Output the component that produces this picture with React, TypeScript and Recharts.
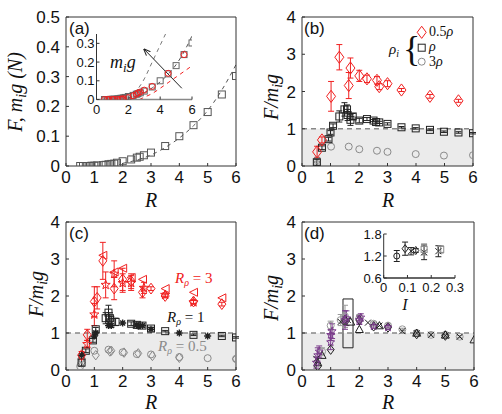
import React from "react";
import {
  ComposedChart,
  ErrorBar,
  Line,
  ReferenceArea,
  ReferenceLine,
  Scatter,
  XAxis,
  YAxis,
} from "recharts";

const W = 502;
const H = 414;

const RED = "#f02020";
const BLACK = "#222";
const GRAY = "#8a8a8a";
const PURPLE = "#7b3c8c";
const SANS = "'Liberation Sans', Arial, sans-serif";
const SERIF = "'Liberation Serif', 'Times New Roman', serif";

const R_TICKS = [0, 1, 2, 3, 4, 5, 6];

// (a) force and weight against size ratio R
const aR = [0.5, 0.6, 0.7, 0.8, 0.9, 1.0, 1.1, 1.3, 1.4, 1.5, 1.6, 1.7, 1.8, 2.0, 2.3, 2.5, 2.6, 2.75, 3.0, 3.5, 4.0, 4.5, 5.0, 5.5, 6.0];
const aF = [0, 0, 0, 0, 0.001, 0.001, 0.002, 0.003, 0.004, 0.006, 0.007, 0.008, 0.011, 0.016, 0.022, 0.028, 0.031, 0.036, 0.045, 0.067, 0.1, 0.137, 0.181, 0.24, 0.302];
const aFitR = [2.0, 2.5, 3.0, 3.5, 4.0, 4.5, 5.0, 5.5, 6.0];
const aFitF = [0.009, 0.02, 0.037, 0.062, 0.094, 0.135, 0.186, 0.255, 0.34];
// inset of (a)
const inRedR = [0.5, 0.7, 0.8, 1.0, 1.1, 1.3, 1.5, 1.6, 1.7, 2.0, 2.3, 2.5, 2.6, 2.75, 3.0, 3.5, 4.5, 5.5];
const inRedF = [0, 0, 0, 0, 0, 0, 0.002, 0.003, 0.004, 0.01, 0.02, 0.028, 0.035, 0.04, 0.05, 0.07, 0.14, 0.24];
const inSteepR = [2.0, 2.5, 3.0, 3.5, 4.0, 4.45];
const inSteepF = [0, 0.045, 0.11, 0.2, 0.29, 0.37];
const inLowR = [2.7, 3.0, 3.5, 4.0, 4.5, 5.0, 5.5, 6.0];
const inLowF = [0, 0.012, 0.032, 0.06, 0.09, 0.12, 0.15, 0.18];

// (b) normalised force for three intruder densities
const bHalfR = [0.53, 0.7, 1.02, 1.31, 1.64, 1.7, 2.01, 2.28, 2.63, 2.71, 3.0, 3.49, 4.49, 5.49];
const bHalfY = [0.38, 0.7, 1.87, 2.92, 2.16, 2.63, 2.42, 2.34, 2.3, 2.13, 2.21, 2.04, 1.87, 1.75];
const bHalfE = [0.15, 0.08, 0.4, 0.34, 0.35, 0.27, 0.15, 0.1, 0.1, 0.08, 0.08, 0.04, 0.05, 0.04];
const bOneR = [0.52, 0.7, 0.93, 1.0, 1.09, 1.31, 1.49, 1.58, 1.6, 1.7, 1.78, 2.01, 2.28, 2.51, 2.6, 2.71, 3.0, 3.49, 3.99, 4.49, 4.98, 5.49, 6.0];
const bOneY = [0.1, 0.49, 0.72, 0.9, 1.08, 1.33, 1.52, 1.52, 1.37, 1.24, 1.33, 1.22, 1.26, 1.22, 1.18, 1.17, 1.13, 1.04, 1.01, 0.97, 0.92, 0.9, 0.88];
const bOneE = [0.08, 0.05, 0.05, 0.05, 0.05, 0.15, 0.18, 0.12, 0.15, 0.15, 0.08, 0.06, 0.04, 0.03, 0.03, 0.03, 0.03, 0.02, 0.02, 0.02, 0.02, 0.02, 0.02];
const bThreeR = [0.53, 0.53, 1.02, 1.64, 2.01, 2.63, 3.0, 3.99, 4.98, 6.0];
const bThreeY = [0.05, 0.16, 0.52, 0.52, 0.45, 0.41, 0.38, 0.32, 0.28, 0.29];

// (c) three density ratios, several intruder sizes each
const cRedDiaR = [0.55, 0.75, 1.0, 1.1, 1.3, 1.7, 2.0, 2.3, 2.7, 3.0, 3.5, 4.5, 5.5];
const cRedDiaY = [0.4, 0.95, 1.85, 1.95, 2.95, 2.2, 2.45, 2.4, 2.1, 2.2, 2.0, 1.85, 1.78];
const cRedDiaE = [0.1, 0.15, 0.4, 0.3, 0.5, 0.3, 0.3, 0.2, 0.15, 0.05, 0.05, 0.05, 0.05];
const cRedTriR = [1.3, 1.7, 2.0, 2.3, 2.7, 3.5, 4.5, 5.5];
const cRedTriY = [3.1, 2.65, 2.75, 2.5, 2.45, 2.2, 2.1, 1.95];
const cRedStarR = [0.75, 1.0, 1.4, 1.7, 2.0, 2.3, 2.75, 3.5, 4.5];
const cRedStarY = [0.7, 1.5, 2.3, 2.6, 2.35, 2.35, 2.22, 2.03, 1.83];
const cRedStarE = [0.1, 0.3, 0.35, 0.35, 0.25, 0.2, 0.15, 0.05, 0.05];
const cBlkSqR = [0.55, 0.7, 0.95, 1.05, 1.4, 1.5, 1.55, 1.6, 1.75, 2.3, 2.5, 2.7, 3.0, 3.5, 4.5, 5.5, 6.0];
const cBlkSqY = [0.2, 0.52, 0.8, 1.1, 1.4, 1.55, 1.4, 1.3, 1.3, 1.25, 1.22, 1.2, 1.12, 1.05, 0.95, 0.92, 0.88];
const cBlkSqE = [0.1, 0.05, 0.05, 0.05, 0.15, 0.2, 0.15, 0.15, 0.1, 0.05, 0.05, 0.04, 0.03, 0.02, 0.02, 0.02, 0.02];
const cBlkAstR = [0.55, 1.0, 1.05, 1.5, 1.6, 2.0, 2.5, 2.55, 2.7, 3.0, 4.0, 5.0];
const cBlkAstY = [0.4, 0.92, 1.0, 1.2, 1.2, 1.27, 1.22, 1.18, 1.2, 1.1, 1.0, 0.92];
const cGrayCirR = [0.5, 0.55, 1.0, 1.5, 2.0, 2.5, 3.0, 4.0, 5.0, 6.0];
const cGrayCirY = [0.1, 0.3, 0.52, 0.55, 0.48, 0.43, 0.42, 0.35, 0.32, 0.3];
const cGrayDiaR = [0.55, 1.05, 1.55, 1.6, 2.05, 2.55, 3.05, 4.0, 6.0];
const cGrayDiaY = [0.2, 0.4, 0.5, 0.52, 0.47, 0.45, 0.38, 0.33, 0.3];

// (d) all runs collapsed, inset against inertial number I
const dCirR = [0.7, 1.0, 1.35, 1.5, 2.0, 2.5, 3.0, 3.5, 4.0, 4.5, 5.0, 5.5];
const dCirY = [0.5, 1.2, 1.35, 1.45, 1.4, 1.25, 1.2, 1.1, 1.0, 0.95, 0.95, 0.9];
const dCirE = [0.1, 0.12, 0.15, 0.3, 0.1, 0.05, 0.05, 0.03, 0.03, 0.03, 0.03, 0.03];
const dDiaR = [0.55, 1.0, 1.5, 2.0, 2.5, 3.0, 4.0, 5.0];
const dDiaY = [0.1, 0.55, 1.35, 1.35, 1.18, 1.15, 0.97, 0.93];
const dTriR = [0.55, 0.7, 1.7, 2.0, 2.7, 4.0, 5.0, 6.0];
const dTriY = [0.2, 0.4, 1.3, 1.1, 1.2, 1.0, 0.95, 0.82];
const dPurR = [0.5, 0.55, 0.6, 1.0, 1.0, 1.05, 1.5, 1.55, 2.0, 2.05, 2.5, 3.0];
const dPurY = [0.2, 0.4, 0.5, 0.75, 0.95, 1.05, 1.35, 1.4, 1.35, 1.42, 1.18, 1.15];
const dPurE = [0.15, 0.2, 0.15, 0.2, 0.15, 0.2, 0.25, 0.2, 0.12, 0.1, 0.05, 0.05];
const dCrossR = [0.5, 1.35, 1.6, 2.3, 2.7, 3.5, 4.0, 4.5, 5.0, 5.5];
const dCrossY = [0.3, 1.3, 1.35, 1.28, 1.2, 1.05, 1.0, 0.95, 0.93, 0.9];
const dInCirI = [0.055];
const dInCirY = [1.2];
const dInCirE = [0.15];
const dInDiaI = [0.09, 0.135];
const dInDiaY = [1.4, 1.35];
const dInDiaE = [0.18, 0.05];
const dInCrossI = [0.115, 0.17, 0.23];
const dInCrossY = [1.33, 1.3, 1.33];
const dInCrossE = [0.1, 0.2, 0.15];
const dInSqI = [0.17, 0.24];
const dInSqY = [1.38, 1.38];
const dInSqE = [0.15, 0.1];

type Pt = { x: number; y: number; e?: number };
const pts = (xs: number[], ys: number[], es?: number[]): Pt[] =>
  xs.map((x, i) => ({ x, y: ys[i], e: es ? es[i] : undefined }));

type Kind = "square" | "diamond" | "circle" | "triL" | "triU" | "star" | "aster" | "cross";

function Glyph({ cx, cy, kind, color, s }: { cx: number; cy: number; kind: Kind; color: string; s: number }) {
  const common = { fill: "none", stroke: color, strokeWidth: 1 };
  switch (kind) {
    case "square":
      return <rect x={cx - s} y={cy - s} width={2 * s} height={2 * s} {...common} />;
    case "diamond":
      return <path d={`M${cx},${cy - s * 1.35}L${cx + s},${cy}L${cx},${cy + s * 1.35}L${cx - s},${cy}Z`} {...common} />;
    case "circle":
      return <circle cx={cx} cy={cy} r={s} {...common} />;
    case "triL":
      return <path d={`M${cx - s},${cy}L${cx + s},${cy - s}L${cx + s},${cy + s}Z`} {...common} />;
    case "triU":
      return <path d={`M${cx},${cy - s}L${cx + s},${cy + s * 0.8}L${cx - s},${cy + s * 0.8}Z`} {...common} />;
    case "star": {
      let d = "";
      for (let k = 0; k < 10; k++) {
        const r = k % 2 === 0 ? s * 1.2 : s * 0.5;
        const a = -Math.PI / 2 + (k * Math.PI) / 5;
        d += `${k === 0 ? "M" : "L"}${cx + r * Math.cos(a)},${cy + r * Math.sin(a)}`;
      }
      return <path d={d + "Z"} {...common} />;
    }
    case "aster":
      return (
        <path
          d={`M${cx - s},${cy}H${cx + s}M${cx},${cy - s}V${cy + s}M${cx - s * 0.7},${cy - s * 0.7}L${cx + s * 0.7},${cy + s * 0.7}M${cx - s * 0.7},${cy + s * 0.7}L${cx + s * 0.7},${cy - s * 0.7}`}
          {...common}
          strokeWidth={1.4}
        />
      );
    default:
      return <path d={`M${cx - s},${cy - s}L${cx + s},${cy + s}M${cx - s},${cy + s}L${cx + s},${cy - s}`} {...common} />;
  }
}

const shape = (kind: Kind, color: string, s = 4) => (p: any) =>
  <Glyph cx={p.cx} cy={p.cy} kind={kind} color={color} s={s} />;

function Series({ data, kind, color, s, err }: { data: Pt[]; kind: Kind; color: string; s?: number; err?: boolean }) {
  return (
    <Scatter data={data} dataKey="y" shape={shape(kind, color, s)} isAnimationActive={false}>
      {err && <ErrorBar dataKey="e" direction="y" width={3} stroke={color} strokeWidth={1} />}
    </Scatter>
  );
}

function Curve({ data, color }: { data: Pt[]; color: string }) {
  return (
    <Line
      data={data}
      dataKey="y"
      type="monotone"
      stroke={color}
      strokeWidth={1}
      strokeDasharray="4 4"
      dot={false}
      activeDot={false}
      isAnimationActive={false}
    />
  );
}

interface Box {
  x0: number;
  x1: number;
  y0: number;
  y1: number;
}

const PA: Box = { x0: 66, x1: 236, y0: 17, y1: 166 };
const PB: Box = { x0: 302, x1: 473, y0: 17, y1: 166 };
const PC: Box = { x0: 66, x1: 236, y0: 222, y1: 370 };
const PD: Box = { x0: 302, x1: 474, y0: 222, y1: 370 };
const IA: Box = { x0: 96.5, x1: 192, y0: 34, y1: 99.5 };
const ID: Box = { x0: 383.7, x1: 455, y0: 234, y1: 278 };

function Panel({
  box,
  xDomain,
  yDomain,
  xTicks,
  yTicks,
  fontSize = 17,
  framed = true,
  tickFmt,
  baseStroke = "#333",
  children,
}: {
  box: Box;
  xDomain: [number, number];
  yDomain: [number, number];
  xTicks: number[];
  yTicks: number[];
  fontSize?: number;
  framed?: boolean;
  tickFmt?: (v: number) => string;
  baseStroke?: string;
  children?: React.ReactNode;
}) {
  const tick = { fill: "#111", fontSize, fontFamily: SANS };
  const line = { stroke: "#333", strokeWidth: 1 };
  // axes are 1px thick boxes sitting just outside the plot area
  const f = framed ? 1 : 0;
  return (
    <div style={{ position: "absolute", left: 0, top: 0 }}>
      <ComposedChart
        width={W}
        height={H}
        margin={{ top: box.y0 - f, left: box.x0 - 1, right: W - box.x1 - f, bottom: H - box.y1 - 1 }}
      >
        <XAxis
          type="number"
          dataKey="x"
          domain={xDomain}
          ticks={xTicks}
          interval={0}
          allowDataOverflow
          height={1}
          tickSize={-3}
          tickMargin={8}
          axisLine={{ stroke: baseStroke, strokeWidth: framed ? 1 : 1.5 }}
          tickLine={line}
          tick={tick}
          tickFormatter={(v: number) => String(v)}
        />
        <YAxis
          type="number"
          domain={yDomain}
          ticks={yTicks}
          interval={0}
          allowDataOverflow
          width={1}
          tickSize={-3}
          tickMargin={fontSize > 15 ? 9 : 5}
          axisLine={line}
          tickLine={line}
          tick={tick}
          tickFormatter={tickFmt}
        />
        {framed && (
          <XAxis
            xAxisId="top"
            orientation="top"
            type="number"
            domain={xDomain}
            ticks={xTicks}
            interval={0}
            allowDataOverflow
            height={1}
            tickSize={-3}
            axisLine={line}
            tickLine={line}
            tick={false}
          />
        )}
        {framed && (
          <YAxis
            yAxisId="right"
            orientation="right"
            type="number"
            domain={yDomain}
            ticks={yTicks}
            interval={0}
            allowDataOverflow
            width={1}
            tickSize={-3}
            axisLine={line}
            tickLine={line}
            tick={false}
          />
        )}
        {children}
      </ComposedChart>
    </div>
  );
}

function Shade() {
  return <ReferenceArea y1={0} y2={1} fill="#ebebeb" fillOpacity={1} stroke="none" />;
}

function Unity() {
  return <ReferenceLine y={1} stroke="#888" strokeWidth={1.5} strokeDasharray="5 4" />;
}

// F / m_i g written with a subscript i
function RatioLabel({ x, y }: { x: number; y: number }) {
  return (
    <text x={x} y={y} transform={`rotate(-90 ${x} ${y})`} textAnchor="middle" fontFamily={SERIF} fontStyle="italic" fontSize={20} fill="#111">
      F/m<tspan dy={4} fontSize={14}>i</tspan>
      <tspan dy={-4}>g</tspan>
    </text>
  );
}

function RLabel({ x, y }: { x: number; y: number }) {
  return (
    <text x={x} y={y} textAnchor="middle" fontFamily={SERIF} fontStyle="italic" fontSize={20} fill="#111">
      R
    </text>
  );
}

function Tag({ x, y, t }: { x: number; y: number; t: string }) {
  return (
    <text x={x} y={y} fontFamily={SANS} fontSize={17} fill="#111">
      {t}
    </text>
  );
}

// R_rho = value, drawn above the shaded band
function RhoNote({ x, y, v, color }: { x: number; y: number; v: string; color: string }) {
  return (
    <text x={x} y={y} fontFamily={SERIF} fontStyle="italic" fontSize={15} fill={color}>
      R<tspan dy={3} fontSize={10}>ρ</tspan>
      <tspan dy={-3} fontStyle="normal"> = {v}</tspan>
    </text>
  );
}

export default function App() {
  const fmt1 = (v: number) => (v === 0 ? "0" : v.toFixed(1));
  return (
    <div style={{ position: "absolute", left: 0, top: 0, width: W, height: H, background: "#fff" }}>
      {/* (a) */}
      <Panel box={PA} xDomain={[0, 6]} yDomain={[0, 0.5]} xTicks={R_TICKS} yTicks={[0, 0.1, 0.2, 0.3, 0.4, 0.5]} tickFmt={fmt1}>
        <Curve data={pts(aFitR, aFitF)} color="#555" />
        <Series data={pts(aR, aF)} kind="square" color="#555" s={3.5} />
        <text x={22} y={92} transform="rotate(-90 22 92)" textAnchor="middle" fontFamily={SERIF} fontStyle="italic" fontSize={20} fill="#111">
          F, m<tspan dy={4} fontSize={14}>i</tspan>
          <tspan dy={-4}>g (N)</tspan>
        </text>
        <RLabel x={151} y={207} />
        <Tag x={69} y={34} t="(a)" />
      </Panel>
      <Panel box={IA} xDomain={[0, 6]} yDomain={[0, 0.35]} xTicks={[0, 2, 4, 6]} yTicks={[0, 0.1, 0.2, 0.3]} fontSize={13} framed={false} tickFmt={fmt1} baseStroke="#888">
        <defs>
          <marker id="head" viewBox="0 0 10 10" refX="9" refY="5" markerWidth="7" markerHeight="7" orient="auto">
            <path d="M0,1L10,5L0,9" fill="none" stroke="#222" strokeWidth={1.5} />
          </marker>
        </defs>
        <Curve data={pts(inSteepR, inSteepF)} color="#777" />
        <Curve data={pts(aFitR, aFitF)} color="#555" />
        <Curve data={pts(inLowR, inLowF)} color={RED} />
        <Series data={pts(aR, aF)} kind="square" color="#666" s={3} />
        <Series data={pts(inRedR, inRedF)} kind="circle" color={RED} s={3} />
        <ReferenceLine
          segment={[
            { x: 5.36, y: 0.06 },
            { x: 2.99, y: 0.269 },
          ]}
          stroke="#222"
          strokeWidth={1}
          markerEnd="url(#head)"
        />
        <text x={110} y={68} fontFamily={SERIF} fontStyle="italic" fontSize={18} fill="#111">
          m<tspan dy={4} fontSize={13}>i</tspan>
          <tspan dy={-4}>g</tspan>
        </text>
      </Panel>

      {/* (b) */}
      <Panel box={PB} xDomain={[0, 6]} yDomain={[0, 4]} xTicks={R_TICKS} yTicks={[0, 1, 2, 3, 4]}>
        <Shade />
        <Unity />
        <Series data={pts(bThreeR, bThreeY)} kind="circle" color={GRAY} s={3.5} />
        <Series data={pts(bOneR, bOneY, bOneE)} kind="square" color={BLACK} s={3.5} err />
        <Series data={pts(bHalfR, bHalfY, bHalfE)} kind="diamond" color={RED} s={4.5} err />
        <RatioLabel x={278} y={97} />
        <RLabel x={388} y={207} />
        <Tag x={304} y={34} t="(b)" />
        <text x={389} y={54} fontFamily={SERIF} fontStyle="italic" fontSize={15} fill="#111">
          ρ<tspan dy={3} fontSize={10}>i</tspan>
        </text>
        <text x={403} y={61} fontFamily={SERIF} fontSize={36} fill="#111">
          {"{"}
        </text>
        <Glyph cx={421.7} cy={32.3} kind="diamond" color={RED} s={4.5} />
        <Glyph cx={421.7} cy={47.7} kind="square" color={BLACK} s={3.5} />
        <Glyph cx={421.7} cy={61.7} kind="circle" color={GRAY} s={3.5} />
        <text x={429} y={36} fontFamily={SERIF} fontSize={14} fill="#111">
          0.5<tspan fontStyle="italic">ρ</tspan>
        </text>
        <text x={429} y={51} fontFamily={SERIF} fontStyle="italic" fontSize={14} fill="#111">
          ρ
        </text>
        <text x={429} y={66} fontFamily={SERIF} fontSize={14} fill="#111">
          3<tspan fontStyle="italic">ρ</tspan>
        </text>
      </Panel>

      {/* (c) */}
      <Panel box={PC} xDomain={[0, 6]} yDomain={[0, 4]} xTicks={R_TICKS} yTicks={[0, 1, 2, 3, 4]}>
        <Shade />
        <Unity />
        <Series data={pts(cGrayCirR, cGrayCirY)} kind="circle" color={GRAY} s={3.5} />
        <Series data={pts(cGrayDiaR, cGrayDiaY)} kind="diamond" color={GRAY} s={3.5} />
        <Series data={pts(cBlkSqR, cBlkSqY, cBlkSqE)} kind="square" color={BLACK} s={3.5} err />
        <Series data={pts(cBlkAstR, cBlkAstY)} kind="aster" color={BLACK} s={3.5} />
        <Series data={pts(cRedTriR, cRedTriY)} kind="triL" color={RED} s={4} />
        <Series data={pts(cRedDiaR, cRedDiaY, cRedDiaE)} kind="diamond" color={RED} s={4} err />
        <Series data={pts(cRedStarR, cRedStarY, cRedStarE)} kind="star" color={RED} s={4} err />
        <RatioLabel x={43} y={294} />
        <RLabel x={151} y={409} />
        <Tag x={69} y={239} t="(c)" />
      </Panel>

      {/* (d) */}
      <Panel box={PD} xDomain={[0, 6]} yDomain={[0, 4]} xTicks={R_TICKS} yTicks={[0, 1, 2, 3, 4]}>
        <Shade />
        <Unity />
        <Series data={pts(dCirR, dCirY, dCirE)} kind="circle" color="#9a9a9a" s={3.5} err />
        <Series data={pts(dDiaR, dDiaY)} kind="diamond" color={BLACK} s={3.5} />
        <Series data={pts(dTriR, dTriY)} kind="triU" color={BLACK} s={4} />
        <Series data={pts(dCrossR, dCrossY)} kind="cross" color={BLACK} s={3} />
        <Series data={pts(dPurR, dPurY, dPurE)} kind="star" color={PURPLE} s={3.5} err />
        <ReferenceArea x1={1.43} x2={1.78} y1={0.6} y2={1.92} fill="none" stroke="#222" strokeWidth={1} />
        <RatioLabel x={278} y={298} />
        <RLabel x={388} y={409} />
        <Tag x={304} y={239} t="(d)" />
      </Panel>
      <Panel box={ID} xDomain={[0, 0.3]} yDomain={[0.6, 1.8]} xTicks={[0, 0.1, 0.2, 0.3]} yTicks={[0.6, 1.2, 1.8]} fontSize={13} framed={false} tickFmt={(v: number) => v.toFixed(1)}>
        <Series data={pts(dInCirI, dInCirY, dInCirE)} kind="circle" color={BLACK} s={3} err />
        <Series data={pts(dInDiaI, dInDiaY, dInDiaE)} kind="diamond" color={BLACK} s={3} err />
        <Series data={pts(dInCrossI, dInCrossY, dInCrossE)} kind="cross" color={BLACK} s={3} err />
        <Series data={pts(dInSqI, dInSqY, dInSqE)} kind="square" color={GRAY} s={3} err />
        <text x={405} y={310} textAnchor="middle" fontFamily={SERIF} fontStyle="italic" fontSize={16} fill="#111">
          I
        </text>
      </Panel>

      {/* annotations of (c) sit above the chart layers */}
      <svg width={W} height={H} style={{ position: "absolute", left: 0, top: 0, pointerEvents: "none" }}>
        <RhoNote x={175} y={283} v="3" color={RED} />
        <RhoNote x={167} y={322} v="1" color="#111" />
        <RhoNote x={158} y={351} v="0.5" color={GRAY} />
      </svg>
    </div>
  );
}
